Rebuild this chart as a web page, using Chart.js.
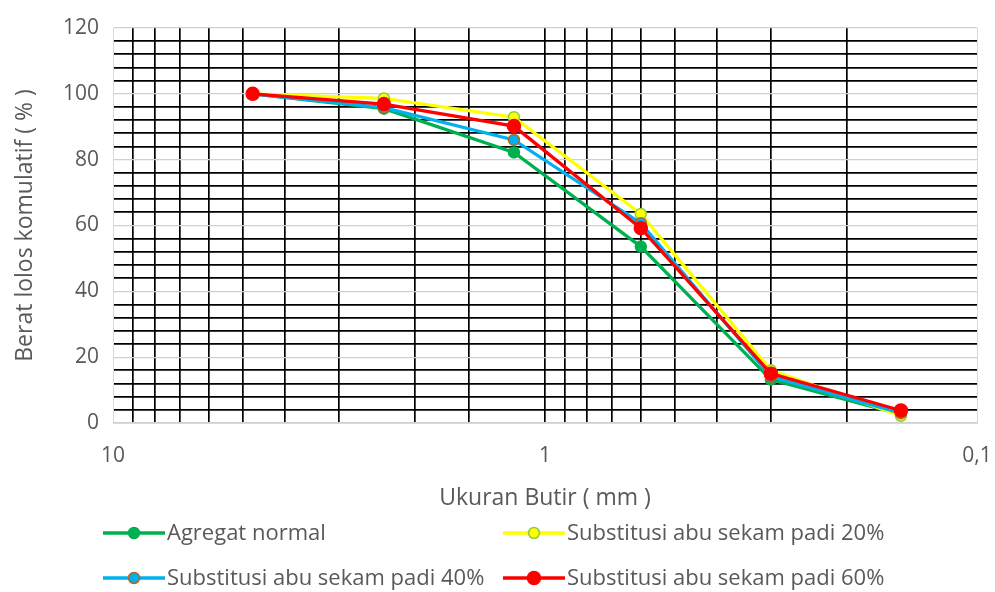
<!DOCTYPE html>
<html>
<head>
<meta charset="utf-8">
<script src="https://cdn.jsdelivr.net/npm/chart.js@4.4.1/dist/chart.umd.min.js"></script>
<style>
  html, body { margin: 0; padding: 0; background: #ffffff; }
  #wrap { width: 995px; height: 592px; position: relative; }
</style>
</head>
<body>
<div id="wrap"><canvas id="c"></canvas></div>
<script>
// ---- data ----
const sieveSizes = [4.75, 2.36, 1.18, 0.6, 0.3, 0.15];   // mm
const seriesNames = [
  'Agregat normal',
  'Substitusi abu sekam padi 20%',
  'Substitusi abu sekam padi 40%',
  'Substitusi abu sekam padi 60%'
];
const agregatNormal = [100, 95.5, 82.2, 53.6, 13.2, 2.6];
const substitusi20 = [100, 98.6, 92.9, 63.5, 16.0, 2.2];
const substitusi40 = [100, 95.8, 86.0, 60.7, 14.1, 3.0];
const substitusi60 = [100, 96.9, 90.2, 59.2, 15.0, 3.8];
const xTickLabels = { 10: '10', 1: '1', 0.1: '0,1' };
const yTickLabels = [0, 20, 40, 60, 80, 100, 120];

const FONT = "'Open Sans', 'Liberation Sans', sans-serif";
const TXT = '#595959';

function pts(vals) { return sieveSizes.map((x, i) => ({ x: x, y: vals[i] })); }

const styles = [
  { line: '#00b050', fill: '#00b050', border: '#00b050', r: 5.5, order: 4 },
  { line: '#ffff00', fill: '#ffff00', border: '#92c940', r: 5.5, order: 3 },
  { line: '#00b0f0', fill: '#00b0f0', border: '#b5651d', r: 5.5, order: 2 },
  { line: '#ff0000', fill: '#ff0000', border: '#ff0000', r: 6.5, order: 1 }
];
const values = [agregatNormal, substitusi20, substitusi40, substitusi60];

const datasets = values.map((v, i) => ({
  label: seriesNames[i],
  data: pts(v),
  borderColor: styles[i].line,
  backgroundColor: styles[i].fill,
  pointBackgroundColor: styles[i].fill,
  pointBorderColor: styles[i].border,
  pointBorderWidth: 1.5,
  pointRadius: styles[i].r,
  pointHoverRadius: styles[i].r,
  borderWidth: 3.3,
  tension: 0,
  order: styles[i].order
}));

// custom two-column legend drawn below the chart
const gridLegend = {
  id: 'gridLegend',
  afterDraw(chart) {
    const ctx = chart.ctx;
    const cols = [103, 503];
    const rows = [533, 578];
    ctx.save();
    chart.data.datasets.forEach((ds, i) => {
      const x0 = cols[i % 2], y = rows[Math.floor(i / 2)];
      const x1 = x0 + 62;
      ctx.strokeStyle = ds.borderColor;
      ctx.lineWidth = 3.3;
      ctx.beginPath(); ctx.moveTo(x0, y); ctx.lineTo(x1, y); ctx.stroke();
      ctx.beginPath();
      ctx.arc((x0 + x1) / 2, y, ds.pointRadius, 0, Math.PI * 2);
      ctx.fillStyle = ds.pointBackgroundColor; ctx.fill();
      ctx.lineWidth = ds.pointBorderWidth; ctx.strokeStyle = ds.pointBorderColor; ctx.stroke();
      ctx.fillStyle = TXT;
      ctx.font = '22px ' + FONT;
      ctx.textAlign = 'left';
      ctx.textBaseline = 'middle';
      ctx.fillText(ds.label, x1 + 2, y + 1);
    });
    ctx.restore();
  }
};

new Chart(document.getElementById('c'), {
  type: 'line',
  data: { datasets: datasets },
  plugins: [gridLegend],
  options: {
    responsive: true,
    maintainAspectRatio: false,
    animation: false,
    layout: { padding: { left: 12, right: 18, top: 28, bottom: 80 } },
    plugins: { legend: { display: false }, tooltip: { enabled: false } },
    scales: {
      x: {
        type: 'logarithmic',
        reverse: true,
        min: 0.1,
        max: 10,
        border: { display: true, color: '#d9d9d9', width: 1 },
        grid: {
          drawTicks: false,
          color: (c) => {
            const v = c.tick ? c.tick.value : null;
            return (v === 10 || Math.abs(v - 0.1) < 1e-9) ? '#d9d9d9' : '#000000';
          },
          lineWidth: (c) => {
            const v = c.tick ? c.tick.value : null;
            return (v === 10 || Math.abs(v - 0.1) < 1e-9) ? 1 : 1.7;
          }
        },
        ticks: {
          autoSkip: false,
          maxRotation: 0,
          padding: 0,
          color: TXT,
          font: { family: FONT, size: 21, lineHeight: '67px' },
          callback: (v) => {
            const key = Math.abs(v - 0.1) < 1e-9 ? 0.1 : v;
            return xTickLabels[key] !== undefined ? xTickLabels[key] : '';
          }
        },
        title: {
          display: true,
          text: 'Ukuran Butir ( mm )',
          color: TXT,
          font: { family: FONT, size: 23 },
          padding: { top: 0, bottom: 0 }
        },
        afterFit: (s) => { s.height = 89; }
      },
      y: {
        min: 0,
        max: 120,
        border: { display: true, color: '#d9d9d9', width: 1 },
        grid: {
          drawTicks: false,
          color: (c) => (c.tick && c.tick.value % 20 === 0) ? '#d0d0d0' : '#000000',
          lineWidth: (c) => (c.tick && c.tick.value % 20 === 0) ? 1.2 : 1.7
        },
        ticks: {
          stepSize: 4,
          autoSkip: false,
          padding: 14,
          color: TXT,
          font: { family: FONT, size: 21 },
          callback: (v) => yTickLabels.includes(v) ? String(v) : ''
        },
        title: {
          display: true,
          text: 'Berat lolos komulatif ( % )',
          color: TXT,
          font: { family: FONT, size: 23 },
          padding: { top: 0, bottom: 0 }
        },
        afterFit: (s) => { s.width = 101; }
      }
    }
  }
});
</script>
</body>
</html>
